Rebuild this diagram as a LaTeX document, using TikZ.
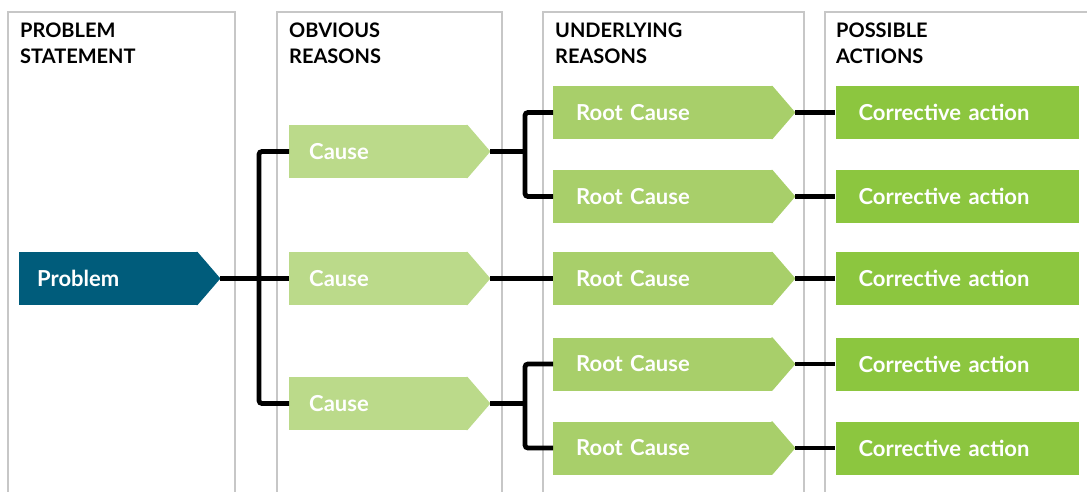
\documentclass[tikz,border=0pt]{standalone}
\usepackage{fontspec}
\setmainfont{Lato}
\usetikzlibrary{positioning,calc}

\colorlet{grid line}{black!22}
\definecolor{problem blue}{HTML}{005C7B}
\definecolor{cause green}{HTML}{BBDA8A}
\definecolor{root green}{HTML}{A8CF6A}
\definecolor{action green}{HTML}{8CC63F}
\tikzset{
  column/.style={draw=grid line, line width=1.3pt},
  heading/.style={anchor=north west, align=left, inner sep=0pt,
    font=\fontsize{20}{26}\selectfont\bfseries},
  box/.style={anchor=west, minimum height=53pt, inner sep=0pt, text=white,
    align=left, font=\fontsize{22}{24}\selectfont\bfseries},
  probbox/.style={box, fill=problem blue, minimum width=178pt, text width=142pt},
  causebox/.style={box, fill=cause green, minimum width=178pt, text width=138pt},
  rootbox/.style={box, fill=root green, minimum width=219pt, text width=173pt},
  actbox/.style={box, fill=action green, minimum width=243pt, text width=197pt},
  link/.style={line width=4.8pt, rounded corners=3pt}
}
% pointed end on the right of a box
\newcommand\tip[2]{%
  \coordinate (#1-tip) at ($(#1.east)+(23,0)$);
  \fill[#2] ($(#1.north east)+(-1,0)$) -- (#1.north east) -- (#1-tip)
    -- (#1.south east) -- ($(#1.south east)+(-1,0)$) -- cycle;}

\begin{document}
\begin{tikzpicture}[x=1pt,y=-1pt]
  \useasboundingbox (0,0) rectangle (1087,492);

  % columns
  \draw[column] (8,492) |- (235,12) -- (235,492);
  \draw[column] (277,492) |- (502,12) -- (502,492);
  \draw[column] (543,492) |- (804,12) -- (804,492);
  \draw[column] (825,492) |- (1087,12);

  \node[heading] (h1) at (20,23) {PROBLEM\\STATEMENT};
  \node[heading] (h2) at (289,23) {OBVIOUS\\REASONS};
  \node[heading] (h3) at (555,23) {UNDERLYING\\REASONS};
  \node[heading] (h4) at (836,23) {POSSIBLE\\ACTIONS};

  \node[probbox] (prob) at (19,278.5) {Problem};
  \tip{prob}{problem blue}

  \node[causebox] (c1) at (289,151.5) {Cause};
  \node[causebox] (c2) at (289,278.5) {Cause};
  \node[causebox] (c3) at (289,403.5) {Cause};
  \foreach \n in {c1,c2,c3} {\tip{\n}{cause green}}

  \node[rootbox] (r1) at (553,112.5) {Root Cause};
  \node[rootbox] (r2) at (553,196.5) {Root Cause};
  \node[rootbox] (r3) at (553,278.5) {Root Cause};
  \node[rootbox] (r4) at (553,364) {Root Cause};
  \node[rootbox] (r5) at (553,448) {Root Cause};
  \foreach \n in {r1,r2,r3,r4,r5} {\tip{\n}{root green}}

  \foreach \n in {1,...,5}
    \node[actbox, right=40pt of r\n-tip] (a\n) {Corrective action};

  % links
  \draw[link] (prob-tip) -- (c2.west);
  \draw[link] (c1.west) -- ++(-30,0) |- (c3.west);
  \draw[link] (c1-tip) -- ++(35,0);
  \draw[link] (r1.west) -- ++(-28,0) |- (r2.west);
  \draw[link] (c2-tip) -- (r3.west);
  \draw[link] (c3-tip) -- ++(35,0);
  \draw[link] (r4.west) -- ++(-28,0) |- (r5.west);
  \foreach \n in {1,...,5}
    \draw[link] (r\n-tip) -- (a\n.west);

\end{tikzpicture}
\end{document}
